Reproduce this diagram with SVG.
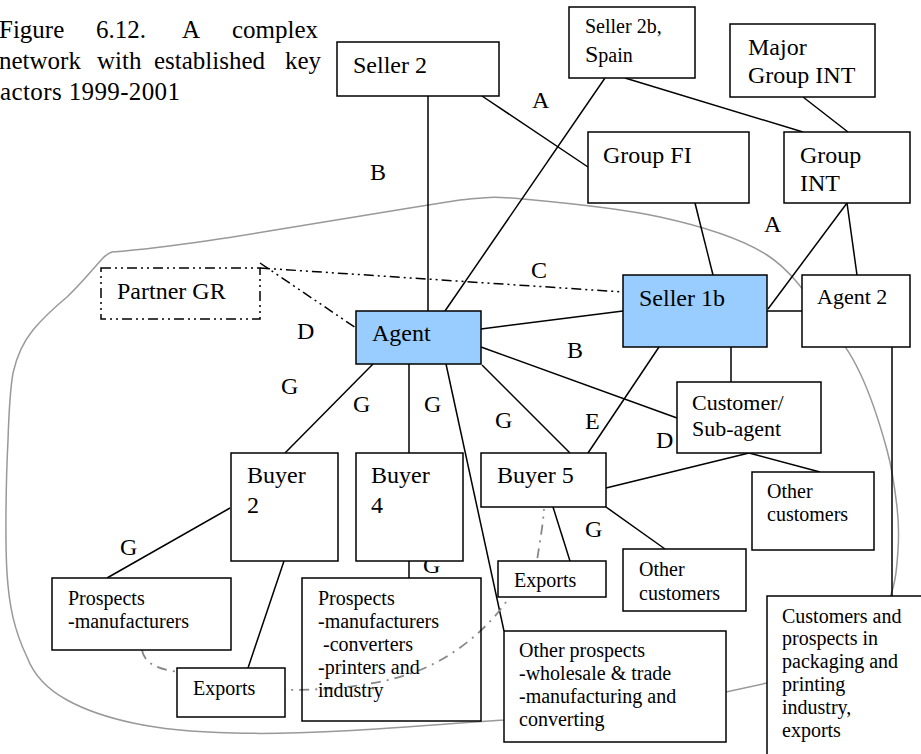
<svg xmlns="http://www.w3.org/2000/svg" width="921" height="754" viewBox="0 0 921 754">
<style>
.t{font-family:"Liberation Serif","Times New Roman",serif;fill:#000}
.f24{font-size:24px}.f22{font-size:22px}.f20{font-size:20px}
.box{fill:#fff;stroke:#000;stroke-width:1.5}
.open{fill:none;stroke:#000;stroke-width:1.5}
.blue{fill:#99CCFF;stroke:#000;stroke-width:1.5}
.dashbox{fill:#fff;stroke:#000;stroke-width:1.5;stroke-dasharray:10 4 2 4 2 4}
.ln{stroke:#000;stroke-width:1.5;fill:none}
.dd{stroke:#000;stroke-width:1.5;fill:none;stroke-dasharray:10 4 2 4 2 4}
.encl{stroke:#999;stroke-width:1.5;fill:none}
.gdd{stroke:#888;stroke-width:1.8;fill:none;stroke-dasharray:10 6 2 6}
</style>
<rect width="921" height="754" fill="#fff"/>
<g id="caption" class="t" font-size="25">
<text y="38"><tspan x="-1">Figure</tspan><tspan x="96">6.12.</tspan><tspan x="182">A</tspan><tspan x="232">complex</tspan></text>
<text y="69"><tspan x="-1">network</tspan><tspan x="97">with</tspan><tspan x="154">established</tspan><tspan x="285">key</tspan></text>
<text x="0" y="100" textLength="180" lengthAdjust="spacing">actors 1999-2001</text>
</g>
<path id="enclosure" class="encl" d="M 504,720 L 460,723 C 380,729 300,735 233,733 C 190,732 160,729 133,723 C 105,717 85,710 67,700 C 45,688 33,673 27,657 C 14,630 9,605 7,573 C 5,540 6,480 8,440 C 9,410 10,390 13,373 C 17,355 24,341 33,330 C 43,318 55,307 67,297 C 80,285 92,270 103,258 C 106,255 108,253 112,252 C 200,245 300,225 460,200 C 491,197 490,196 523,199 C 556,202 619,208 660,217 C 701,226 739,237 767,255 C 795,273 812,303 827,323 C 843,343 850,352 860,373 C 870,394 881,428 887,450 C 893,472 895,490 897,507 C 899,524 899,535 898,550 C 897,565 896,582 890,597 L 860,640 L 800,675 L 767,683 L 726,692 Z"/>
<g id="connectors">
<line class="ln" x1="428" y1="96" x2="428" y2="311"/>
<line class="ln" x1="482" y1="96" x2="588" y2="167"/>
<line class="ln" x1="605" y1="78" x2="445" y2="311"/>
<line class="ln" x1="625" y1="78" x2="803" y2="132"/>
<line class="ln" x1="803" y1="97" x2="848" y2="132"/>
<line class="ln" x1="695" y1="203" x2="713" y2="275"/>
<line class="ln" x1="847" y1="203" x2="768" y2="309"/>
<line class="ln" x1="847" y1="203" x2="857" y2="275"/>
<line class="ln" x1="767" y1="311" x2="802" y2="311"/>
<line class="ln" x1="481" y1="329" x2="623" y2="311"/>
<line class="ln" x1="481" y1="347" x2="677" y2="418"/>
<line class="ln" x1="659" y1="347" x2="588" y2="453"/>
<line class="ln" x1="731" y1="347" x2="731" y2="382"/>
<line class="ln" x1="892" y1="347" x2="892" y2="596"/>
<line class="ln" x1="373" y1="364" x2="285" y2="453"/>
<line class="ln" x1="409" y1="364" x2="409" y2="453"/>
<line class="ln" x1="446" y1="364" x2="504" y2="631"/>
<line class="ln" x1="482" y1="365" x2="570" y2="453"/>
<line class="ln" x1="749" y1="453" x2="606" y2="488"/>
<line class="ln" x1="749" y1="453" x2="820" y2="472"/>
<line class="ln" x1="553" y1="507" x2="570" y2="561"/>
<line class="ln" x1="606" y1="507" x2="665" y2="549"/>
<line class="ln" x1="230" y1="508" x2="107" y2="578"/>
<line class="ln" x1="284" y1="561" x2="248" y2="668"/>
<line class="ln" x1="409" y1="561" x2="409" y2="578"/>
<line class="dd" x1="260" y1="268" x2="623" y2="292"/>
<line class="dd" x1="260" y1="263" x2="356" y2="328"/>
<path class="gdd" d="M 142,650 C 144,662 155,668 172,671 L 285,690 C 330,690 380,686 420,670 C 450,658 480,635 500,610 L 537,561 C 540,540 543,525 544,509"/>
</g>
<g id="labels" class="t f24">
<text x="532" y="108">A</text>
<text x="370" y="180">B</text>
<text x="764" y="232">A</text>
<text x="531" y="278">C</text>
<text x="297" y="339">D</text>
<text x="567" y="358">B</text>
<text x="281" y="394">G</text>
<text x="353" y="412">G</text>
<text x="424" y="412">G</text>
<text x="495" y="428">G</text>
<text x="585" y="429">E</text>
<text x="656" y="448">D</text>
<text x="585" y="537">G</text>
<text x="120" y="555">G</text>
<text x="423" y="573">G</text>
</g>
<g id="seller2"><rect class="box" x="337" y="42" width="162" height="54"/><text class="t f24" x="353" y="73">Seller 2</text></g>
<g id="seller2b"><rect class="box" x="569" y="7" width="126" height="71"/><text class="t f20" x="585" y="33">Seller 2b,</text><text class="t f20" x="585" y="62"><tspan font-size="24">S</tspan>pain</text></g>
<g id="majorGroupINT"><rect class="box" x="730" y="24" width="145" height="73"/><text class="t f24" x="748" y="55">Major</text><text class="t f24" x="748" y="83">Group INT</text></g>
<g id="groupFI"><rect class="box" x="588" y="132" width="161" height="71"/><text class="t f24" x="603" y="163">Group FI</text></g>
<g id="groupINT"><rect class="box" x="784" y="132" width="126" height="71"/><text class="t f24" x="800" y="163">Group</text><text class="t f24" x="800" y="191">INT</text></g>
<g id="partnerGR"><rect class="dashbox" x="101" y="268" width="159" height="51"/><text class="t f24" x="117" y="299">Partner GR</text></g>
<g id="agent"><rect class="blue" x="356" y="311" width="125" height="53"/><text class="t f24" x="372" y="341">Agent</text></g>
<g id="seller1b"><rect class="blue" x="623" y="275" width="144" height="72"/><text class="t f24" x="639" y="306">Seller 1b</text></g>
<g id="agent2"><rect class="box" x="802" y="275" width="108" height="72"/><text class="t f22" x="817" y="304">Agent 2</text></g>
<g id="customerSubagent"><rect class="box" x="677" y="382" width="144" height="71"/><text class="t f22" x="692" y="410">Customer/</text><text class="t f22" x="692" y="436">Sub-agent</text></g>
<g id="buyer2"><rect class="box" x="231" y="453" width="107" height="108"/><text class="t f24" x="247" y="483">Buyer</text><text class="t f24" x="247" y="513">2</text></g>
<g id="buyer4"><rect class="box" x="356" y="453" width="107" height="108"/><text class="t f24" x="371" y="483">Buyer</text><text class="t f24" x="371" y="513">4</text></g>
<g id="buyer5"><rect class="box" x="481" y="453" width="125" height="54"/><text class="t f24" x="497" y="483">Buyer 5</text></g>
<g id="otherCustomers1"><rect class="box" x="752" y="472" width="122" height="78"/><text class="t f20" x="767" y="498">Other</text><text class="t f20" x="767" y="521">customers</text></g>
<g id="exports5"><rect class="box" x="498" y="561" width="108" height="36"/><text class="t f20" x="514" y="587">Exports</text></g>
<g id="otherCustomers2"><rect class="box" x="623" y="549" width="123" height="62"/><text class="t f20" x="639" y="576">Other</text><text class="t f20" x="639" y="600">customers</text></g>
<g id="prospectsLeft"><rect class="box" x="52" y="578" width="179" height="72"/><text class="t f20" x="68" y="605">Prospects</text><text class="t f20" x="68" y="628">-manufacturers</text></g>
<g id="exportsLeft"><rect class="box" x="177" y="668" width="108" height="49"/><text class="t f20" x="193" y="695">Exports</text></g>
<g id="prospectsMid"><rect class="open" x="302" y="578" width="179" height="143"/><text class="t f20" x="318" y="605">Prospects</text><text class="t f20" x="318" y="628">-manufacturers</text><text class="t f20" x="323" y="651">-converters</text><text class="t f20" x="318" y="674">-printers and</text><text class="t f20" x="318" y="697">industry</text></g>
<g id="otherProspects"><rect class="box" x="504" y="631" width="222" height="111"/><text class="t f20" x="519" y="657">Other prospects</text><text class="t f20" x="519" y="680">-wholesale &amp; trade</text><text class="t f20" x="519" y="703">-manufacturing and</text><text class="t f20" x="519" y="726">converting</text></g>
<g id="customersProspects"><rect class="box" x="767" y="596" width="170" height="170"/><text class="t f20" x="782" y="623">Customers and</text><text class="t f20" x="782" y="645">prospects in</text><text class="t f20" x="782" y="668">packaging and</text><text class="t f20" x="782" y="691">printing</text><text class="t f20" x="782" y="714">industry,</text><text class="t f20" x="782" y="737">exports</text></g>
</svg>
